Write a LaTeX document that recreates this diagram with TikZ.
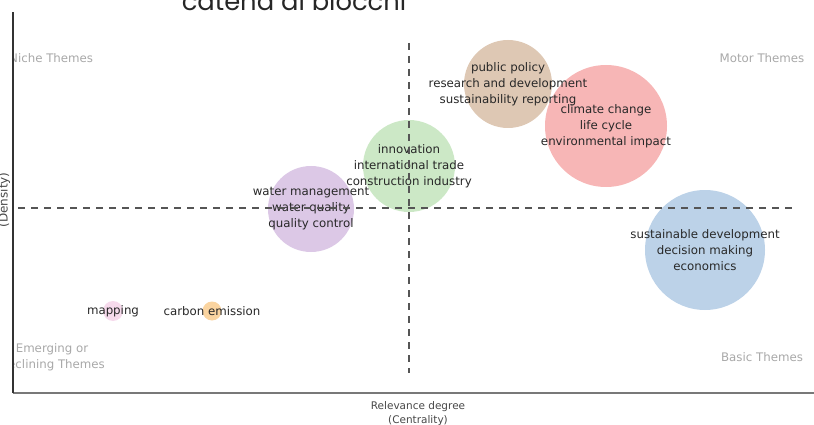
\documentclass[tikz,border=0pt]{standalone}
\usepackage{fontspec}
\setmainfont{DejaVu Sans}
\newfontfamily\titlefont{Poppins}
\definecolor{tanc}{RGB}{222,200,180}
\definecolor{redc}{RGB}{246,176,176}
\definecolor{greenc}{RGB}{204,232,198}
\definecolor{purplec}{RGB}{220,200,230}
\definecolor{bluec}{RGB}{188,210,232}
\definecolor{orangec}{RGB}{250,212,160}
\definecolor{pinkc}{RGB}{246,218,236}
\definecolor{txt}{RGB}{40,40,40}
\definecolor{quadgray}{RGB}{168,168,168}
\definecolor{dashgray}{RGB}{85,85,85}
\definecolor{axisgray}{RGB}{120,120,120}
\begin{document}
\begin{tikzpicture}[x=1pt,y=-1pt,
  bubble/.style={circle,inner sep=0pt,minimum size=#1,draw=none},
  lbl/.style={align=center,font=\fontsize{11.8}{16}\selectfont,text=txt,inner sep=0pt},
  quad/.style={align=center,font=\fontsize{11.8}{16}\selectfont,text=quadgray,inner sep=0pt},
  axlbl/.style={align=center,font=\fontsize{10.5}{14}\selectfont,text=txt!85,inner sep=0pt},
  dashline/.style={draw=dashgray,line width=1.1pt,dash pattern=on 7pt off 6pt}]
\useasboundingbox (0,0) rectangle (814,425);
\clip (0,0) rectangle (814,425);
% title (cut off at top, as in the reference)
\node[font=\titlefont\fontsize{25.8}{28}\selectfont,text=black!85,anchor=base,inner sep=0pt] (title) at (294,11) {catena di blocchi};
% bubbles
\node[bubble=88pt,fill=tanc] (tan) at (508,84) {};
\node[bubble=122pt,fill=redc,fill opacity=0.92] (red) at (606,126) {};
\node[bubble=92pt,fill=greenc] (green) at (409,166) {};
\node[bubble=86pt,fill=purplec] (purple) at (311,209) {};
\node[bubble=120pt,fill=bluec] (blue) at (705,250) {};
\node[bubble=20pt,fill=pinkc] (pink) at (113,311) {};
\node[bubble=19pt,fill=orangec] (orange) at (212,311) {};
% quadrant labels (clipped by plot area)
\begin{scope}
\clip (14,0) rectangle (814,392);
\node[quad,anchor=west] (niche) at (9,58) {Niche Themes};
\node[quad] (motor) at (762,58) {Motor Themes};
\node[quad] (basic) at (762,357) {Basic Themes};
\node[quad] (emerging) at (52,357) {Emerging or\\Declining Themes};
\end{scope}
% bubble labels
\node[lbl] (tanlbl) at (tan) {public policy\\research and development\\sustainability reporting};
\node[lbl] (redlbl) at (red) {climate change\\life cycle\\environmental impact};
\node[lbl] (greenlbl) at (green) {innovation\\international trade\\construction industry};
\node[lbl] (purplelbl) at (purple) {water management\\water quality\\quality control};
\node[lbl] (bluelbl) at (blue) {sustainable development\\decision making\\economics};
\node[lbl] (pinklbl) at (pink) {mapping};
\node[lbl] (orangelbl) at (orange) {carbon emission};
% quadrant separators
\coordinate (vtop) at (409,43);
\coordinate (vbot) at (409,373);
\coordinate (hl) at (18,208);
\coordinate (hr) at (797,208);
\draw[dashline] (hl) -- (hr);
\draw[dashline] (vtop) -- (vbot);
% axes
\coordinate (origin) at (13,393);
\coordinate (ytop) at (13,12);
\coordinate (xend) at (814,393);
\draw[axisgray,line width=1.3pt] (origin) -- (xend);
\draw[black!80,line width=1.4pt] (origin) -- (ytop);
% axis labels
\node[axlbl] (xlabel) at (418,414) {Relevance degree\\(Centrality)};
\node[axlbl,font=\fontsize{12}{14}\selectfont,rotate=90,anchor=base] (ylabel) at (7.5,200) {(Density)};
\end{tikzpicture}
\end{document}
